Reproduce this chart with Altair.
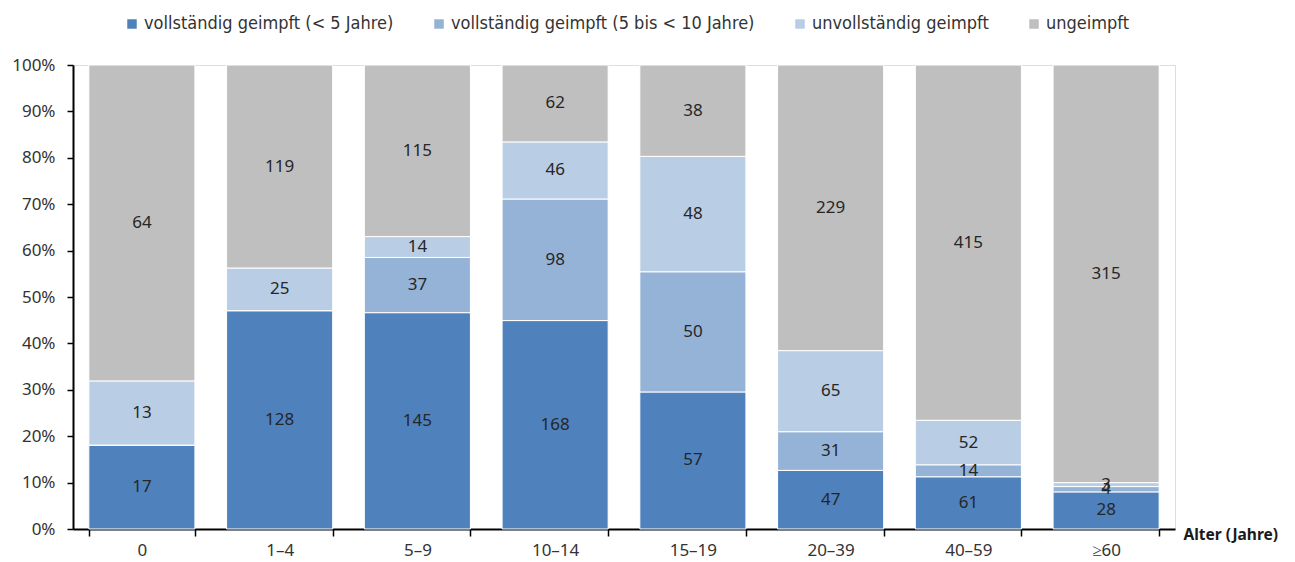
import altair as alt
import pandas as pd

categories = ["0", "1–4", "5–9", "10–14", "15–19", "20–39", "40–59", "≥60"]
series = [
    "vollständig geimpft (< 5 Jahre)",
    "vollständig geimpft (5 bis < 10 Jahre)",
    "unvollständig geimpft",
    "ungeimpft",
]
full_lt5 = [17, 128, 145, 168, 57, 47, 61, 28]
full_5_10 = [0, 0, 37, 98, 50, 31, 14, 4]
incomplete = [13, 25, 14, 46, 48, 65, 52, 3]
unvacc = [64, 119, 115, 62, 38, 229, 415, 315]
colors = ["#4F81BD", "#95B3D7", "#B9CDE5", "#BFBFBF"]
y_ticks = [0, 0.1, 0.2, 0.3, 0.4, 0.5, 0.6, 0.7, 0.8, 0.9, 1.0]

rows = []
for i, c in enumerate(categories):
    for j, (s, vals) in enumerate(zip(series, [full_lt5, full_5_10, incomplete, unvacc])):
        rows.append({"cat": c, "series": s, "order": j, "count": vals[i]})
df = pd.DataFrame(rows)

FONT = "Noto Sans"

base = (
    alt.Chart(df)
    .transform_joinaggregate(total="sum(count)", groupby=["cat"])
    .transform_calculate(pct="datum.count / datum.total")
    .transform_window(cum="sum(pct)", groupby=["cat"], sort=[{"field": "order"}], frame=[None, 0])
    .transform_calculate(lo="datum.cum - datum.pct", mid="datum.cum - datum.pct / 2")
)

x_enc = alt.X(
    "cat:N",
    sort=categories,
    scale=alt.Scale(paddingInner=0.23, paddingOuter=0.115),
    axis=alt.Axis(
        title="Alter (Jahre)",
        titleFont=FONT,
        titleFontSize=15.5,
        titleFontWeight="bold",
        titleColor="#1a1a1a",
        titleX=1110,
        titleY=5,
        titleAlign="left",
        titleBaseline="middle",
        titleAngle=0,
        labelAngle=0,
        labelFont=FONT,
        labelFontSize=17,
        labelColor="#333333",
        labelPadding=6,
        tickBand="extent",
        tickSize=7,
        tickColor="black",
        tickWidth=1.5,
        domainColor="black",
        domainWidth=2,
        grid=False,
    ),
)

bars = base.mark_bar(stroke="white", strokeWidth=1).encode(
    x=x_enc,
    y=alt.Y(
        "lo:Q",
        scale=alt.Scale(domain=[0, 1], nice=False),
        axis=alt.Axis(
            title=None,
            format=".0%",
            values=y_ticks,
            labelFont=FONT,
            labelFontSize=17,
            labelColor="#333333",
            labelPadding=12,
            tickSize=6,
            tickColor="black",
            tickWidth=1.5,
            domainColor="black",
            domainWidth=2,
            grid=False,
        ),
    ),
    y2="cum:Q",
    color=alt.Color(
        "series:N",
        scale=alt.Scale(domain=series, range=colors),
        legend=alt.Legend(
            title=None,
            orient="none",
            direction="horizontal",
            legendX=50,
            legendY=-50,
            symbolType="square",
            symbolSize=90,
            symbolStrokeWidth=0,
            labelFont="DejaVu Sans Condensed",
            labelFontSize=18,
            labelColor="#333333",
            labelOffset=3,
            columnPadding=36,
            labelLimit=400,
        ),
    ),
    order=alt.Order("order:Q"),
)

labels = base.transform_filter("datum.count > 0").mark_text(
    font=FONT, fontSize=17, color="#262626"
).encode(
    x=alt.X("cat:N", sort=categories),
    y=alt.Y("mid:Q"),
    text=alt.Text("count:Q"),
)

chart = (
    alt.layer(bars, labels)
    .properties(
        width=1102,
        height=464,
        autosize=alt.AutoSizeParams(type="none"),
        padding={"left": 65, "top": 57, "right": 106, "bottom": 30},
    )
    .configure_view(stroke=None)
    .configure(background="white")
)

chart.save("out.html", embed_options={"renderer": "svg", "actions": False})
